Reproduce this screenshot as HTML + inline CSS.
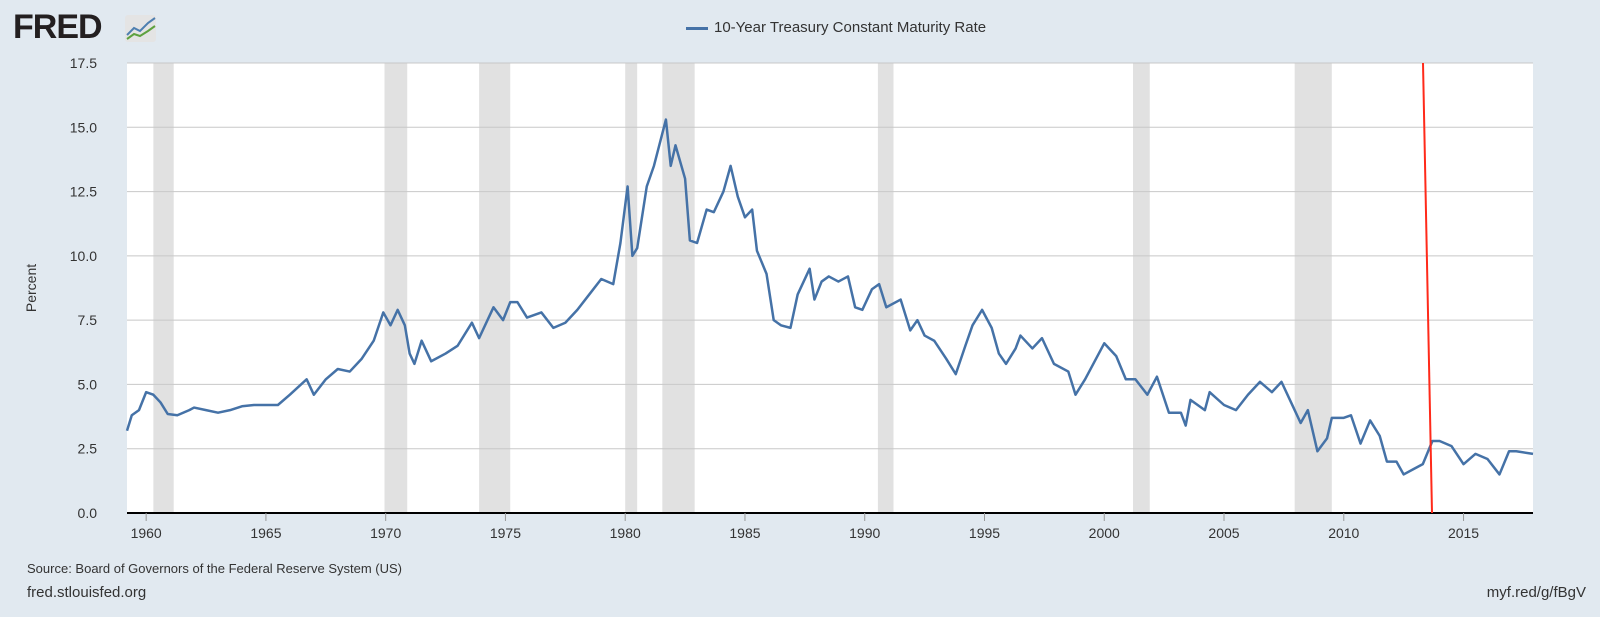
<!DOCTYPE html>
<html><head><meta charset="utf-8"><style>
body{margin:0;width:1600px;height:617px;background:#e1e9f0;font-family:"Liberation Sans",sans-serif;overflow:hidden;position:relative}
.t{position:absolute;color:#333}
</style></head><body>
<div class="t" style="left:13px;top:8px;font-size:34px;font-weight:900;color:#231f20;letter-spacing:-1px">FRED</div>
<svg style="position:absolute;left:125px;top:15px" width="32" height="28"><rect width="31" height="27" rx="3" fill="#e4e4e4"/><polyline points="2,20 9,13 15,16 23,8 30,3" fill="none" stroke="#4e7fb0" stroke-width="2"/><polyline points="2,24 9,19 15,21 23,16 30,11" fill="none" stroke="#5ea13f" stroke-width="2"/></svg>
<div class="t" style="left:686px;top:19px;font-size:15px;color:#333"><span style="display:inline-block;width:22px;height:3px;background:#4572a7;vertical-align:middle;margin-right:6px"></span>10-Year Treasury Constant Maturity Rate</div>
<div class="t" style="left:27px;top:561px;font-size:13px">Source: Board of Governors of the Federal Reserve System (US)</div>
<div class="t" style="left:27px;top:584px;font-size:15px">fred.stlouisfed.org</div>
<div class="t" style="right:14px;top:584px;font-size:15px">myf.red/g/fBgV</div>
<svg id="c" style="position:absolute;left:0;top:0" width="1600" height="617"></svg>
<script>
const yTicks=[0,2.5,5,7.5,10,12.5,15,17.5];
const xTicks=[1960,1965,1970,1975,1980,1985,1990,1995,2000,2005,2010,2015];
const recStart=[1960.3,1969.95,1973.9,1980.0,1981.55,1990.55,2001.2,2007.95];
const recEnd=[1961.15,1970.9,1975.2,1980.5,1982.9,1991.2,2001.9,2009.5];
const years=[1959.2,1959.4,1959.7,1960.0,1960.3,1960.6,1960.9,1961.3,1961.8,1962.0,1962.5,1963.0,1963.5,1964.0,1964.5,1965.0,1965.5,1966.0,1966.7,1967.0,1967.5,1968.0,1968.5,1969.0,1969.5,1969.9,1970.2,1970.5,1970.8,1971.0,1971.2,1971.5,1971.9,1972.5,1973.0,1973.6,1973.9,1974.5,1974.9,1975.2,1975.5,1975.9,1976.5,1977.0,1977.5,1978.0,1978.5,1979.0,1979.5,1979.8,1980.1,1980.3,1980.5,1980.9,1981.2,1981.7,1981.9,1982.1,1982.5,1982.7,1983.0,1983.4,1983.7,1984.1,1984.4,1984.7,1985.0,1985.3,1985.5,1985.9,1986.2,1986.5,1986.9,1987.2,1987.7,1987.9,1988.2,1988.5,1988.9,1989.3,1989.6,1989.9,1990.3,1990.6,1990.9,1991.5,1991.9,1992.2,1992.5,1992.9,1993.4,1993.8,1994.2,1994.5,1994.9,1995.3,1995.6,1995.9,1996.3,1996.5,1997.0,1997.4,1997.9,1998.5,1998.8,1999.2,1999.6,2000.0,2000.5,2000.9,2001.3,2001.8,2002.2,2002.7,2003.2,2003.4,2003.6,2004.2,2004.4,2005.0,2005.5,2006.0,2006.5,2007.0,2007.4,2007.9,2008.2,2008.5,2008.9,2009.3,2009.5,2010.0,2010.3,2010.7,2011.1,2011.5,2011.8,2012.2,2012.5,2012.9,2013.3,2013.7,2014.0,2014.5,2015.0,2015.5,2016.0,2016.5,2016.9,2017.2,2017.9];
const rates=[3.2,3.8,4.0,4.7,4.6,4.3,3.85,3.8,4.0,4.1,4.0,3.9,4.0,4.15,4.2,4.2,4.2,4.6,5.2,4.6,5.2,5.6,5.5,6.0,6.7,7.8,7.3,7.9,7.3,6.2,5.8,6.7,5.9,6.2,6.5,7.4,6.8,8.0,7.5,8.2,8.2,7.6,7.8,7.2,7.4,7.9,8.5,9.1,8.9,10.5,12.7,10.0,10.3,12.7,13.5,15.3,13.5,14.3,13.0,10.6,10.5,11.8,11.7,12.5,13.5,12.3,11.5,11.8,10.2,9.3,7.5,7.3,7.2,8.5,9.5,8.3,9.0,9.2,9.0,9.2,8.0,7.9,8.7,8.9,8.0,8.3,7.1,7.5,6.9,6.7,6.0,5.4,6.5,7.3,7.9,7.2,6.2,5.8,6.4,6.9,6.4,6.8,5.8,5.5,4.6,5.2,5.9,6.6,6.1,5.2,5.2,4.6,5.3,3.9,3.9,3.4,4.4,4.0,4.7,4.2,4.0,4.6,5.1,4.7,5.1,4.1,3.5,4.0,2.4,2.9,3.7,3.7,3.8,2.7,3.6,3.0,2.0,2.0,1.5,1.7,1.9,2.8,2.8,2.6,1.9,2.3,2.1,1.5,2.4,2.4,2.3];
const L=127,R=1533,T=63,B=513,X0=1959.2,X1=2017.9;
const xs=v=>L+(v-X0)/(X1-X0)*(R-L), ys=v=>B-v/17.5*(B-T);
const s=document.getElementById('c'),NS='http://www.w3.org/2000/svg';
function mk(t,a,p){const e=document.createElementNS(NS,t);for(const k in a)e.setAttribute(k,a[k]);(p||s).appendChild(e);return e;}
const bg=mk('rect',{x:L,y:T,width:R-L,height:B-T,fill:'#fff'});


recStart.forEach((r,i)=>{const e=mk('rect',{x:xs(r),y:T,width:xs(recEnd[i])-xs(r),height:B-T,fill:'#e1e1e1'});

});
yTicks.forEach(v=>{const g=mk('line',{x1:L,x2:R,y1:ys(v),y2:ys(v),stroke:v?'#c8c8c8':'#000','stroke-width':v?1:2});


const t=mk('text',{x:97,y:ys(v)+5,'text-anchor':'end','font-size':14,fill:'#333','font-family':'Liberation Sans'});t.textContent=v.toFixed(1);

});
xTicks.forEach(v=>{const k=mk('line',{x1:xs(v),x2:xs(v),y1:B,y2:B+8,stroke:'#999'});


const t=mk('text',{x:xs(v),y:538,'text-anchor':'middle','font-size':14,fill:'#333','font-family':'Liberation Sans'});t.textContent=v;

});
const yt=mk('text',{x:0,y:0,transform:'translate(36,288) rotate(-90)','text-anchor':'middle','font-size':14,fill:'#333','font-family':'Liberation Sans'});yt.textContent='Percent';


const line=mk('polyline',{points:years.map((y,i)=>xs(y)+','+ys(rates[i])).join(' '),fill:'none',stroke:'#4572a7','stroke-width':2.5,'stroke-linejoin':'round'});


const red=mk('line',{x1:1423,y1:63,x2:1432,y2:513,stroke:'#ff2a1a','stroke-width':2});


</script>
</body></html>
